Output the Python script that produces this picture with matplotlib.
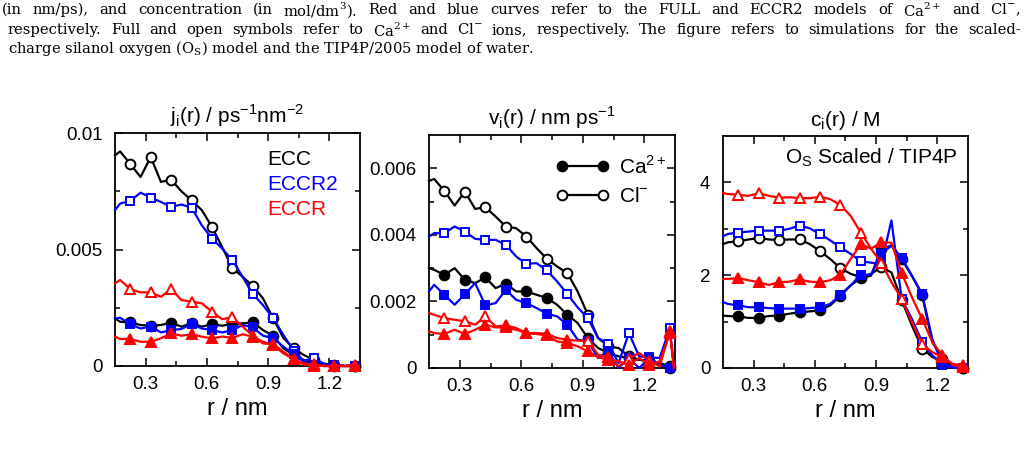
import numpy as np
import matplotlib
matplotlib.use('Agg')
import matplotlib.pyplot as plt
from matplotlib.lines import Line2D

plt.rcParams['font.family'] = ['Liberation Sans', 'DejaVu Sans']
plt.rcParams['mathtext.fontset'] = 'custom'
plt.rcParams['mathtext.rm'] = 'Liberation Sans'

# r grid (nm): left edge, then bin centres, then a last point at the right edge
r = [0.15, 0.175, 0.225, 0.275, 0.325, 0.375, 0.425, 0.475, 0.525, 0.575, 0.625,
     0.675, 0.725, 0.775, 0.825, 0.875, 0.925, 0.975, 1.025, 1.075, 1.125,
     1.175, 1.225, 1.275, 1.325, 1.345]

# flux j_i(r)
j_cl_ecc = [0.00904, 0.00921, 0.00867, 0.00811, 0.00897, 0.0079, 0.0080, 0.0075, 0.00711,
            0.00669, 0.00597, 0.0051, 0.00421, 0.00383, 0.00343, 0.0029, 0.00204, 0.0012,
            0.00076, 0.00047, 0.00026, 0.0001, 0.00004, 0.0, 0.0, 0.0]
j_cl_eccr2 = [0.00669, 0.00697, 0.00709, 0.00744, 0.00723, 0.00704, 0.00683, 0.00693, 0.0068,
              0.00604, 0.00547, 0.00504, 0.00454, 0.00383, 0.00309, 0.00261, 0.00204, 0.00133,
              0.00066, 0.00021, 0.00036, 0.00007, 0.00003, 0.0, 0.00002, 0.0]
j_cl_eccr = [0.00354, 0.00369, 0.0033, 0.00316, 0.00316, 0.00297, 0.0033, 0.00283, 0.00276,
             0.00269, 0.00233, 0.00201, 0.00209, 0.00169, 0.0013, 0.00097, 0.00093, 0.00061,
             0.0003, 0.00011, 0.00007, 0.0, 0.0, 0.0, 0.00004, 0.0]
j_ca_ecc = [0.00204, 0.0019, 0.00187, 0.00176, 0.00173, 0.00176, 0.00186, 0.00169, 0.00183,
            0.00169, 0.00179, 0.00173, 0.00181, 0.00183, 0.00187, 0.00154, 0.0013, 0.00076,
            0.00047, 0.00026, 0.00011, 0.00004, 0.0, 0.0, 0.0, 0.0]
j_ca_eccr2 = [0.00204, 0.00207, 0.00179, 0.00161, 0.00169, 0.00144, 0.00154, 0.00159, 0.0018,
              0.00161, 0.00154, 0.00144, 0.00154, 0.00176, 0.00166, 0.0013, 0.00119, 0.00083,
              0.0005, 0.00019, 0.00004, 0.0, 0.0, 0.0, 0.0, 0.0]
j_ca_eccr = [0.00126, 0.00116, 0.00116, 0.00104, 0.00104, 0.00119, 0.0014, 0.0013, 0.00136,
             0.00126, 0.00119, 0.00126, 0.00121, 0.00136, 0.00126, 0.00104, 0.0009, 0.00054,
             0.0003, 0.00007, 0.00001, 0.0, 0.00001, 0.0, 0.00002, 0.0]

# velocity v_i(r)
v_cl_ecc = [0.00562, 0.00568, 0.00532, 0.00488, 0.0053, 0.00478, 0.00483, 0.00455, 0.00425,
            0.0042, 0.00395, 0.0036, 0.00328, 0.00305, 0.00285, 0.0023, 0.0016, 0.0009,
            0.00065, 0.0006, 0.00035, 0.00025, 0.0002, 0.00015, 0.00005, 0.0]
v_cl_eccr2 = [0.00395, 0.00405, 0.00405, 0.00425, 0.0041, 0.00388, 0.00385, 0.00385, 0.0037,
              0.00335, 0.00313, 0.00315, 0.00293, 0.0026, 0.00222, 0.00182, 0.0015, 0.0009,
              0.00072, 0.00015, 0.00105, 0.00035, 0.00032, 0.0003, 0.0012, 0.0]
v_cl_eccr = [0.00165, 0.0016, 0.0015, 0.00145, 0.0014, 0.0013, 0.00155, 0.00125, 0.00128,
             0.0012, 0.00105, 0.00105, 0.00103, 0.0009, 0.00085, 0.00082, 0.00082, 0.0004,
             0.00032, 0.00005, 0.00028, 0.00045, 0.00022, 0.00005, 0.0011, 0.0]
v_ca_ecc = [0.003, 0.00295, 0.0028, 0.003, 0.00265, 0.00255, 0.00272, 0.0024, 0.00253,
            0.0023, 0.0023, 0.0022, 0.0021, 0.0019, 0.0016, 0.00135, 0.0009, 0.0006,
            0.00045, 0.00035, 0.0003, 0.00025, 0.0002, 0.0001, 0.0, 0.0]
v_ca_eccr2 = [0.0023, 0.0025, 0.0022, 0.0019, 0.00222, 0.00255, 0.00188, 0.00195, 0.00235,
              0.00205, 0.00195, 0.0018, 0.00163, 0.00155, 0.0013, 0.00085, 0.0008, 0.0003,
              0.0005, 0.0, 0.0003, 0.0, 0.0003, 0.0001, 0.0, 0.0]
v_ca_eccr = [0.0011, 0.00105, 0.00102, 0.00115, 0.00102, 0.00115, 0.0013, 0.00122, 0.00122,
             0.00115, 0.00105, 0.00102, 0.00098, 0.0008, 0.00075, 0.00065, 0.0005, 0.00032,
             0.00025, 0.0002, 0.0001, 0.0003, 0.0001, 0.0002, 0.00105, 0.0]

# concentration c_i(r)
c_cl_ecc = [2.67, 2.71, 2.73, 2.77, 2.80, 2.77, 2.76, 2.77, 2.77, 2.67, 2.52, 2.35, 2.15,
            2.03, 1.96, 2.03, 2.17, 2.06, 1.46, 0.92, 0.42, 0.24, 0.13, 0.03, 0.0, 0.0]
c_cl_eccr2 = [2.84, 2.89, 2.92, 2.94, 2.96, 2.96, 2.96, 3.0, 3.07, 3.01, 2.89, 2.75, 2.60,
              2.46, 2.30, 2.27, 2.24, 3.18, 1.49, 1.06, 0.57, 0.27, 0.09, 0.02, 0.0, 0.0]
c_cl_eccr = [3.77, 3.75, 3.73, 3.71, 3.77, 3.71, 3.67, 3.68, 3.66, 3.66, 3.69, 3.64, 3.51,
             3.28, 2.92, 2.57, 2.27, 1.85, 1.49, 0.99, 0.52, 0.34, 0.24, 0.09, 0.06, 0.0]
c_ca_ecc = [1.13, 1.12, 1.11, 1.08, 1.08, 1.12, 1.13, 1.17, 1.20, 1.22, 1.24, 1.35, 1.55,
            1.78, 1.94, 1.99, 2.57, 2.64, 2.35, 1.99, 1.58, 0.56, 0.2, 0.06, 0.01, 0.0]
c_ca_eccr2 = [1.42, 1.38, 1.35, 1.31, 1.31, 1.29, 1.28, 1.28, 1.28, 1.29, 1.31, 1.38, 1.58,
              1.78, 2.01, 2.01, 2.46, 2.64, 2.37, 1.99, 1.6, 0.63, 0.07, 0.01, 0.0, 0.0]
c_ca_eccr = [1.92, 1.92, 1.94, 1.89, 1.85, 1.79, 1.85, 1.86, 1.91, 1.86, 1.85, 1.89, 2.01,
             2.35, 2.67, 2.57, 2.71, 2.70, 2.05, 1.53, 1.06, 0.56, 0.27, 0.06, 0.02, 0.0]

caption = [
    r'(in nm/ps), and concentration (in mol/dm$^\mathregular{3}$). Red and blue curves refer to the FULL and ECCR2 models of Ca$^\mathregular{2+}$ and Cl$^\mathregular{-}$,',
    r'respectively. Full and open symbols refer to Ca$^\mathregular{2+}$ and Cl$^\mathregular{-}$ ions, respectively. The figure refers to simulations for the scaled-',
    r'charge silanol oxygen (O$_\mathregular{S}$) model and the TIP4P/2005 model of water.',
]

model_colors = {'ECC': 'black', 'ECCR2': '#0000ff', 'ECCR': '#ff0000'}
model_markers = {'ECC': 'o', 'ECCR2': 's', 'ECCR': '^'}
marker_size = {'o': 7, 's': 6, '^': 7}

panels = [
    (r'j$_\mathregular{i}$(r) / ps$^\mathregular{-1}$nm$^\mathregular{-2}$', 0.01, 0.005, 0.0025,
     ['0', '0.005', '0.01'],
     {'ECC': (j_ca_ecc, j_cl_ecc), 'ECCR2': (j_ca_eccr2, j_cl_eccr2), 'ECCR': (j_ca_eccr, j_cl_eccr)}),
    (r'v$_\mathregular{i}$(r) / nm ps$^\mathregular{-1}$', 0.007, 0.002, 0.001,
     ['0', '0.002', '0.004', '0.006'],
     {'ECC': (v_ca_ecc, v_cl_ecc), 'ECCR2': (v_ca_eccr2, v_cl_eccr2), 'ECCR': (v_ca_eccr, v_cl_eccr)}),
    (r'c$_\mathregular{i}$(r) / M', 5.0, 2.0, 1.0,
     ['0', '2', '4'],
     {'ECC': (c_ca_ecc, c_cl_ecc), 'ECCR2': (c_ca_eccr2, c_cl_eccr2), 'ECCR': (c_ca_eccr, c_cl_eccr)}),
]

boxes = [(115, 360, 133, 366), (429, 675, 135, 368), (723, 968, 136, 368)]
W, H = 1027, 472

fig = plt.figure(figsize=(W / 100, H / 100), dpi=100)

axes = []
for (title, ymax, ymaj, ymin, ylabels, series), (x0, x1, y0, y1) in zip(panels, boxes):
    ax = fig.add_axes([x0 / W, 1 - y1 / H, (x1 - x0) / W, (y1 - y0) / H])
    axes.append(ax)
    for model in ['ECC', 'ECCR2', 'ECCR']:
        ca, cl = series[model]
        col = model_colors[model]
        mk = model_markers[model]
        for vals, face in ((cl, 'white'), (ca, col)):
            ax.plot(r, vals, color=col, lw=1.6, marker=mk, ms=marker_size[mk],
                    mfc=face, mec=col, mew=1.4, markevery=slice(2, 25, 2),
                    clip_on=False, zorder=3)
    ax.set_xlim(0.15, 1.35)
    ax.set_ylim(0, ymax)
    ax.set_xticks([0.3, 0.6, 0.9, 1.2])
    ax.set_xticks([0.45, 0.75, 1.05], minor=True)
    yt = np.arange(0, ymax + 1e-9, ymaj)
    ax.set_yticks(yt[:len(ylabels)])
    ax.set_yticklabels(ylabels)
    ax.set_yticks(np.arange(ymin, ymax, ymaj), minor=True)
    ax.set_xticklabels(['0.3', '0.6', '0.9', '1.2'])
    ax.tick_params(which='both', direction='in', top=True, right=True, width=1.1,
                   labelsize=13.5)
    ax.tick_params(which='major', length=6)
    ax.tick_params(which='minor', length=3.5)
    ax.tick_params(axis='y', pad=9)
    ax.tick_params(axis='x', pad=7)
    for sp in ax.spines.values():
        sp.set_linewidth(1.3)
    ax.set_title(title, fontsize=15, pad=7)
    ax.set_xlabel('r / nm', fontsize=17, labelpad=4)

# panel 1: model labels
ax = axes[0]
for i, model in enumerate(['ECC', 'ECCR2', 'ECCR']):
    ax.text(0.62, 0.885 - 0.107 * i, model, color=model_colors[model], fontsize=15,
            transform=ax.transAxes, va='center', ha='left')

# panel 2: ion legend
handles = [Line2D([], [], color='black', lw=1.6, marker='o', ms=7, mfc='black', mew=1.4),
           Line2D([], [], color='black', lw=1.6, marker='o', ms=7, mfc='white', mew=1.4)]
axes[1].legend(handles, [r'Ca$^\mathregular{2+}$', r'Cl$^\mathregular{-}$'], numpoints=2,
               frameon=False, loc='upper left', bbox_to_anchor=(0.48, 0.95),
               handlelength=2.6, handletextpad=0.45, labelspacing=0.45, fontsize=15,
               borderaxespad=0)

# panel 3: label
axes[2].text(0.96, 0.905, r'O$_\mathregular{S}$ Scaled / TIP4P', fontsize=15,
             transform=axes[2].transAxes, ha='right', va='center')

# caption lines above the figure; first two lines justified like the typeset page
cap = dict(family=['DejaVu Serif'], fontsize=10.6, va='center', ha='left')
renderer = fig.canvas.get_renderer()
line_x0 = [2, 8, 8]
line_y = [10, 30, 49]
for i, line in enumerate(caption):
    if i == len(caption) - 1:
        fig.text(line_x0[i] / W, 1 - line_y[i] / H, line, **cap)
        continue
    words = line.split(' ')
    arts = [fig.text(0, 1 - line_y[i] / H, w, **cap) for w in words]
    widths = [a.get_window_extent(renderer).width for a in arts]
    gap = (1021 - line_x0[i] - sum(widths)) / (len(words) - 1)
    x = line_x0[i]
    for a, w in zip(arts, widths):
        a.set_x(x / W)
        x += w + gap

fig.savefig('out.png', dpi=100)
